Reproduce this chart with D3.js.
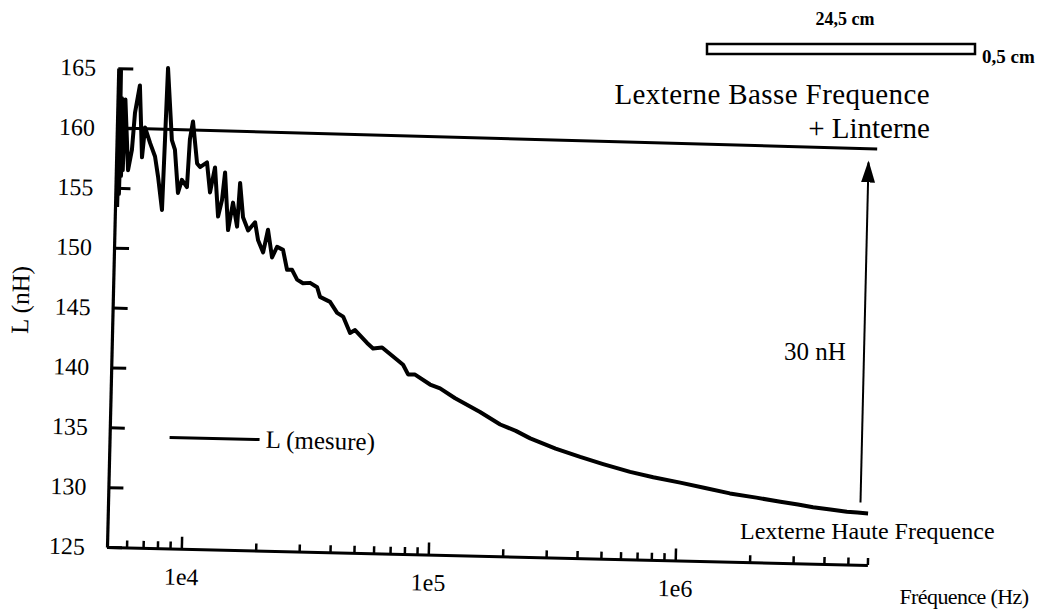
<!DOCTYPE html>
<html>
<head>
<meta charset="utf-8">
<script src="https://cdn.jsdelivr.net/npm/d3@7"></script>
<style>
  html, body { margin: 0; padding: 0; background: #fff; }
  svg { display: block; }
  text { font-family: "Liberation Serif", "Times New Roman", serif; fill: #000; }
</style>
</head>
<body>
<svg id="chart" width="1055" height="614"></svg>
<script>
// ---------------- data ----------------
const freqHz = [5100, 5130, 5170, 5210, 5250, 5290, 5330, 5380, 5600, 5780, 5900, 6140, 6360, 6500,
  6840, 7180, 7420, 7750, 7850, 7950, 8370, 8630, 8960, 9270, 9730, 9900, 10150, 10640, 10950,
  11670, 12080, 12590, 13090, 13530, 13840, 14410, 15000, 15660, 15960, 16520, 17380, 18510,
  19110, 20080, 20910, 21840, 22840, 24160, 25190, 26400, 27720, 29310, 31330, 33480, 34460,
  37870, 40550, 42920, 45950, 48110, 53950, 57120, 62140, 71610, 75840, 79620, 84970, 97960,
  107600, 124100, 157000, 190000, 220000, 252000, 320000, 403000, 500000, 644000, 800000,
  1030000, 1300000, 1640000, 2100000, 2630000, 3100000, 3570000, 4200000, 4900000, 5400000, 5970000];
const inductanceNH = [153.4, 164.8, 154.5, 162.5, 156.0, 160.5, 156.5, 162.4, 156.5, 158.2, 161.3, 163.6, 157.6, 160.1,
  158.8, 157.7, 156.0, 153.25, 159.1, 165.1, 159.1, 158.3, 154.7, 155.8, 155.2, 159.2, 160.7, 157.2, 156.9,
  157.3, 154.8, 156.9, 152.8, 154.2, 156.5, 151.7, 154.0, 152.0, 155.65, 152.8, 151.7, 152.4,
  150.9, 149.9, 151.8, 149.5, 150.4, 150.15, 148.5, 148.5, 147.7, 147.4, 147.45, 147.1, 146.3,
  145.9, 145.0, 144.7, 143.35, 143.6, 142.55, 142.1, 142.2, 141.2, 140.8, 140.0, 140.0, 139.2,
  138.9, 138.1, 137.0, 136.0, 135.5, 134.9, 134.1, 133.45, 132.9, 132.3, 131.9,
  131.5, 131.1, 130.7, 130.4, 130.1, 129.9, 129.7, 129.55, 129.4, 129.35, 129.3];

// low-frequency reference (Lexterne BF + Linterne)
const refFreqHz = [5550, 6000000];
const refNH = [160.0, 159.75];

// 30 nH arrow (from HF level up to BF level)
const arrowFreqHz = [5550000, 5550000];
const arrowNH = [130.2, 158.6];

const xDomain = [5000, 6000000];
const yDomain = [125, 165];
const yTickValues = [125, 130, 135, 140, 145, 150, 155, 160, 165];
const xMajorTicks = [1e4, 1e5, 1e6];
const xMajorLabels = ["1e4", "1e5", "1e6"];
const xMinorTicks = [6e3, 7e3, 8e3, 9e3, 2e4, 3e4, 4e4, 5e4, 6e4, 7e4, 8e4, 9e4,
  2e5, 3e5, 4e5, 5e5, 6e5, 7e5, 8e5, 9e5, 2e6, 3e6, 4e6, 5e6, 6e6];

const yAxisTitle = "L (nH)";
const xAxisTitle = "Fréquence (Hz)";
const legendLabel = "L (mesure)";

// ---------------- drawing ----------------
const svg = d3.select("#chart");
const W = 760.6, H = 479;
const x = d3.scaleLog().domain(xDomain).range([0, W]);
const y = d3.scaleLinear().domain(yDomain).range([0, -H]);

// the scanned figure is slightly tilted
const g = svg.append("g").attr("transform", "translate(107,547) rotate(1.35)");

// y axis
const yAxis = d3.axisLeft(y).tickValues(yTickValues).tickSizeInner(-15).tickSizeOuter(0)
  .tickPadding(22).tickFormat(d3.format("d"));
const gy = g.append("g").call(yAxis);
gy.select(".domain").attr("stroke-width", 3.2);
gy.selectAll(".tick line").attr("stroke-width", 3);
gy.selectAll(".tick text").attr("font-size", 24);

// x axis: minor ticks
const gxMinor = g.append("g").call(d3.axisBottom(x).tickValues(xMinorTicks).tickSizeInner(-7)
  .tickSizeOuter(0).tickFormat(""));
gxMinor.select(".domain").attr("stroke-width", 3);
gxMinor.selectAll(".tick line").attr("stroke-width", 2.5);
// x axis: major ticks with labels
const gxMajor = g.append("g").call(d3.axisBottom(x).tickValues(xMajorTicks).tickSizeInner(-12)
  .tickSizeOuter(0).tickPadding(19).tickFormat((d, i) => xMajorLabels[i]));
gxMajor.select(".domain").remove();
gxMajor.selectAll(".tick line").attr("stroke-width", 2.5);
gxMajor.selectAll(".tick text").attr("font-size", 24);

// reference horizontal line
const line = d3.line().x(d => x(d[0])).y(d => y(d[1]));
g.append("path")
  .datum(refFreqHz.map((f, i) => [f, refNH[i]]))
  .attr("d", line).attr("fill", "none").attr("stroke", "#000").attr("stroke-width", 3);

// measured curve
g.append("path")
  .datum(freqHz.map((f, i) => [f, inductanceNH[i]]))
  .attr("d", line).attr("fill", "none").attr("stroke", "#000")
  .attr("stroke-width", 4).attr("stroke-linejoin", "round");

// arrow 30 nH
svg.append("defs").append("marker").attr("id", "ah")
  .attr("viewBox", "0 0 22 14").attr("refX", 20).attr("refY", 7)
  .attr("markerWidth", 22).attr("markerHeight", 14).attr("markerUnits", "userSpaceOnUse")
  .attr("orient", "auto")
  .append("path").attr("d", "M0,0 L22,7 L0,14 Z").attr("fill", "#000");
g.append("line")
  .attr("x1", x(arrowFreqHz[0])).attr("y1", y(arrowNH[0]))
  .attr("x2", x(arrowFreqHz[1])).attr("y2", y(arrowNH[1]))
  .attr("stroke", "#000").attr("stroke-width", 2).attr("marker-end", "url(#ah)");

// legend
g.append("line").attr("x1", 60).attr("x2", 150).attr("y1", -111).attr("y2", -111)
  .attr("stroke", "#000").attr("stroke-width", 3);
g.append("text").attr("x", 156).attr("y", -103).attr("font-size", 25).text(legendLabel);

// y axis title
g.append("text").attr("transform", "translate(-84,-245) rotate(-90)")
  .attr("text-anchor", "middle").attr("font-size", 25).text(yAxisTitle);

// ---------------- annotations ----------------
svg.append("text").attr("x", 964).attr("y", 604).attr("text-anchor", "middle")
  .attr("font-size", 22).attr("letter-spacing", -0.6).text(xAxisTitle);
svg.append("text").attr("x", 740).attr("y", 539).attr("font-size", 24).text("Lexterne Haute Frequence");
svg.append("text").attr("x", 930).attr("y", 104).attr("text-anchor", "end").attr("font-size", 29)
  .attr("letter-spacing", 0.4).text("Lexterne Basse Frequence");
svg.append("text").attr("x", 930).attr("y", 138).attr("text-anchor", "end").attr("font-size", 29)
  .text("+ Linterne");
svg.append("text").attr("x", 815).attr("y", 360).attr("text-anchor", "middle").attr("font-size", 25)
  .text("30 nH");
svg.append("text").attr("x", 845).attr("y", 25).attr("text-anchor", "middle").attr("font-size", 18)
  .attr("font-weight", "bold").text("24,5 cm");
svg.append("rect").attr("x", 707).attr("y", 44).attr("width", 268).attr("height", 10)
  .attr("fill", "#fff").attr("stroke", "#000").attr("stroke-width", 2.5);
svg.append("text").attr("x", 982).attr("y", 63).attr("font-size", 19).attr("font-weight", "bold")
  .text("0,5 cm");
</script>
</body>
</html>
